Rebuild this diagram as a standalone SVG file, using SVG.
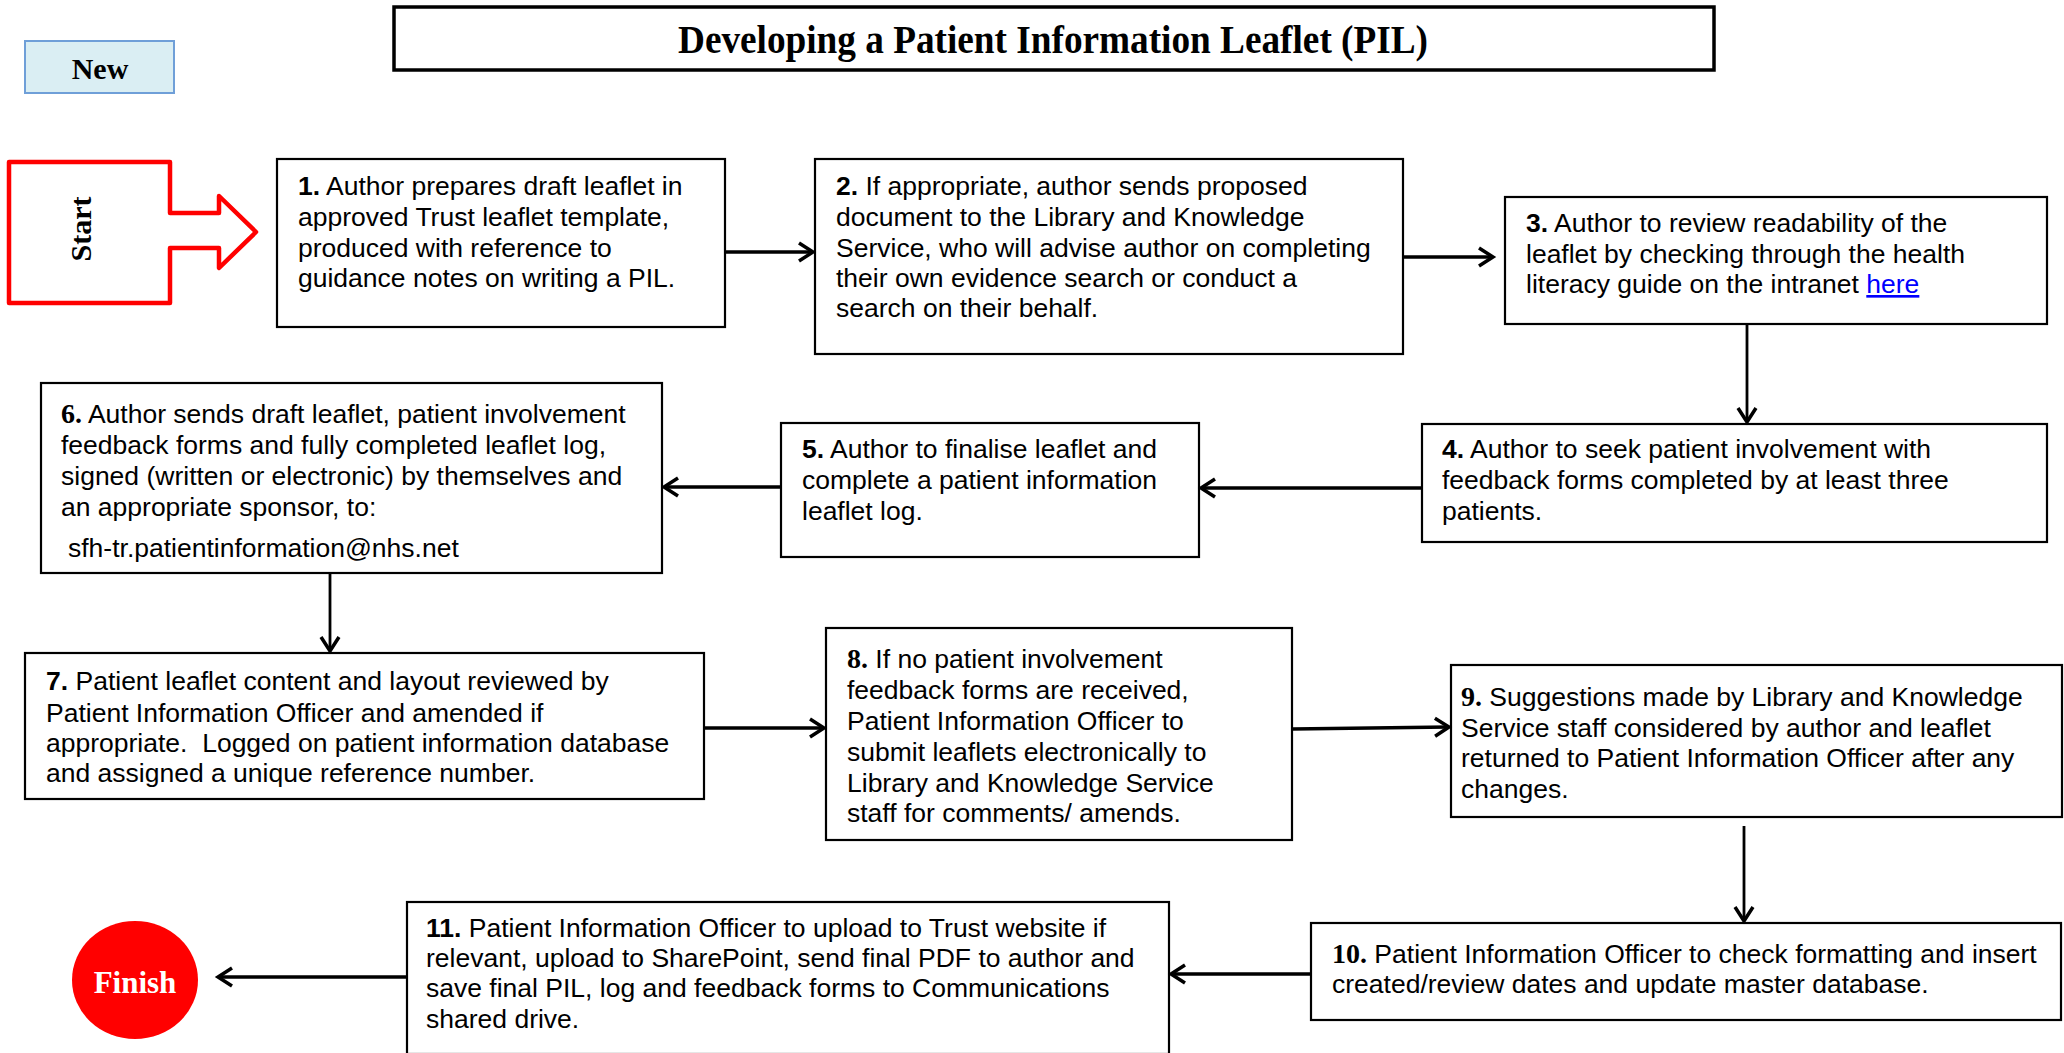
<svg xmlns="http://www.w3.org/2000/svg" width="2064" height="1053" viewBox="0 0 2064 1053">
<defs>
<marker id="ah" markerUnits="userSpaceOnUse" markerWidth="24" markerHeight="26" refX="17" refY="12" orient="auto">
<path d="M3,3 L17,12 L3,21" fill="none" stroke="#000" stroke-width="3.5"/>
</marker>
</defs>
<style>
.box{fill:#fff;stroke:#000;stroke-width:2.2}
.t{font-family:"Liberation Sans",Arial,sans-serif;font-size:26.5px;fill:#000}
.b{font-weight:bold}
.tb{font-family:"Liberation Serif","Times New Roman",serif;font-weight:bold;font-size:28px}
.c{fill:none;stroke:#000;stroke-width:3.6;marker-end:url(#ah)}
.cv{fill:none;stroke:#000;stroke-width:2.8;marker-end:url(#ah)}
</style>
<rect width="2064" height="1053" fill="#fff"/>

<g id="new">
<rect x="25" y="41" width="149" height="52" fill="#DAEEF3" stroke="#6F9FD8" stroke-width="2"/>
<text x="100" y="79" text-anchor="middle" font-family="Liberation Serif,Times New Roman,serif" font-weight="bold" font-size="30">New</text>
</g>

<g id="title">
<rect x="394" y="7" width="1320" height="63" fill="#fff" stroke="#000" stroke-width="3.5"/>
<text x="678" y="53" textLength="750" lengthAdjust="spacingAndGlyphs" font-family="Liberation Serif,Times New Roman,serif" font-weight="bold" font-size="40">Developing a Patient Information Leaflet (PIL)</text>
</g>

<g id="start">
<path d="M9,162 H170 V213 H219 V196 L256,232 L219,268 V248 H170 V303 H9 Z" fill="#fff" stroke="#FF0000" stroke-width="4.5" stroke-linejoin="round"/>
<text transform="translate(91 229) rotate(-90)" text-anchor="middle" font-family="Liberation Serif,Times New Roman,serif" font-weight="bold" font-size="30">Start</text>
</g>

<g id="n1">
<rect class="box" x="277" y="159" width="448" height="168"/>
<text class="t"><tspan x="298" y="195" class="b">1.</tspan> Author prepares draft leaflet in<tspan x="298" y="226">approved Trust leaflet template,</tspan><tspan x="298" y="257">produced with reference to</tspan><tspan x="298" y="287">guidance notes on writing a PIL.</tspan></text>
</g>

<g id="n2">
<rect class="box" x="815" y="159" width="588" height="195"/>
<text class="t"><tspan x="836" y="195" class="b">2.</tspan> If appropriate, author sends proposed<tspan x="836" y="226">document to the Library and Knowledge</tspan><tspan x="836" y="257">Service, who will advise author on completing</tspan><tspan x="836" y="287">their own evidence search or conduct a</tspan><tspan x="836" y="317">search on their behalf.</tspan></text>
</g>

<g id="n3">
<rect class="box" x="1505" y="197" width="542" height="127"/>
<text class="t"><tspan x="1526" y="232" class="b">3.</tspan> Author to review readability of the<tspan x="1526" y="263">leaflet by checking through the health</tspan><tspan x="1526" y="293">literacy guide on the intranet </tspan><tspan fill="#0000FF" text-decoration="underline">here</tspan></text>
</g>

<g id="n4">
<rect class="box" x="1422" y="424" width="625" height="118"/>
<text class="t"><tspan x="1442" y="458" class="b">4.</tspan> Author to seek patient involvement with<tspan x="1442" y="489">feedback forms completed by at least three</tspan><tspan x="1442" y="520">patients.</tspan></text>
</g>

<g id="n5">
<rect class="box" x="781" y="423" width="418" height="134"/>
<text class="t"><tspan x="802" y="458" class="b">5.</tspan> Author to finalise leaflet and<tspan x="802" y="489">complete a patient information</tspan><tspan x="802" y="520">leaflet log.</tspan></text>
</g>

<g id="n6">
<rect class="box" x="41" y="383" width="621" height="190"/>
<text class="t"><tspan x="61" y="423" class="tb">6.</tspan> Author sends draft leaflet, patient involvement<tspan x="61" y="454">feedback forms and fully completed leaflet log,</tspan><tspan x="61" y="485">signed (written or electronic) by themselves and</tspan><tspan x="61" y="516">an appropriate sponsor, to:</tspan><tspan x="68" y="557">sfh-tr.patientinformation@nhs.net</tspan></text>
</g>

<g id="n7">
<rect class="box" x="25" y="653" width="679" height="146"/>
<text class="t"><tspan x="46" y="690" class="b">7.</tspan> Patient leaflet content and layout reviewed by<tspan x="46" y="722">Patient Information Officer and amended if</tspan><tspan x="46" y="752">appropriate.&#160; Logged on patient information database</tspan><tspan x="46" y="782">and assigned a unique reference number.</tspan></text>
</g>

<g id="n8">
<rect class="box" x="826" y="628" width="466" height="212"/>
<text class="t"><tspan x="847" y="668" class="tb">8.</tspan> If no patient involvement<tspan x="847" y="699">feedback forms are received,</tspan><tspan x="847" y="730">Patient Information Officer to</tspan><tspan x="847" y="761">submit leaflets electronically to</tspan><tspan x="847" y="792">Library and Knowledge Service</tspan><tspan x="847" y="822">staff for comments/ amends.</tspan></text>
</g>

<g id="n9">
<rect class="box" x="1451" y="665" width="611" height="152"/>
<text class="t"><tspan x="1461" y="706" class="tb">9.</tspan> Suggestions made by Library and Knowledge<tspan x="1461" y="737">Service staff considered by author and leaflet</tspan><tspan x="1461" y="767">returned to Patient Information Officer after any</tspan><tspan x="1461" y="798">changes.</tspan></text>
</g>

<g id="n10">
<rect class="box" x="1311" y="923" width="750" height="97"/>
<text class="t"><tspan x="1332" y="963" class="tb">10.</tspan> Patient Information Officer to check formatting and insert<tspan x="1332" y="993">created/review dates and update master database.</tspan></text>
</g>

<g id="n11">
<rect class="box" x="407" y="902" width="762" height="152"/>
<text class="t"><tspan x="426" y="937" class="b">11.</tspan> Patient Information Officer to upload to Trust website if<tspan x="426" y="967">relevant, upload to SharePoint, send final PDF to author and</tspan><tspan x="426" y="997">save final PIL, log and feedback forms to Communications</tspan><tspan x="426" y="1028">shared drive.</tspan></text>
</g>

<g id="finish">
<ellipse cx="135" cy="980" rx="63" ry="59" fill="#FF0000"/>
<text x="135" y="993" text-anchor="middle" fill="#fff" font-family="Liberation Serif,Times New Roman,serif" font-weight="bold" font-size="31">Finish</text>
</g>

<g id="connectors">
<line class="c" x1="725" y1="252" x2="813" y2="252"/>
<line class="c" x1="1403" y1="257" x2="1493" y2="257"/>
<line class="cv" x1="1747" y1="324" x2="1747" y2="422"/>
<line class="c" x1="1422" y1="488" x2="1201" y2="488"/>
<line class="c" x1="781" y1="487" x2="664" y2="487"/>
<line class="cv" x1="330" y1="573" x2="330" y2="651"/>
<line class="c" x1="704" y1="728" x2="824" y2="728"/>
<line class="c" x1="1292" y1="729" x2="1449" y2="727"/>
<line class="cv" x1="1744" y1="826" x2="1744" y2="921"/>
<line class="c" x1="1311" y1="974" x2="1171" y2="974"/>
<line class="c" x1="407" y1="977" x2="218" y2="977"/>
</g>
</svg>
